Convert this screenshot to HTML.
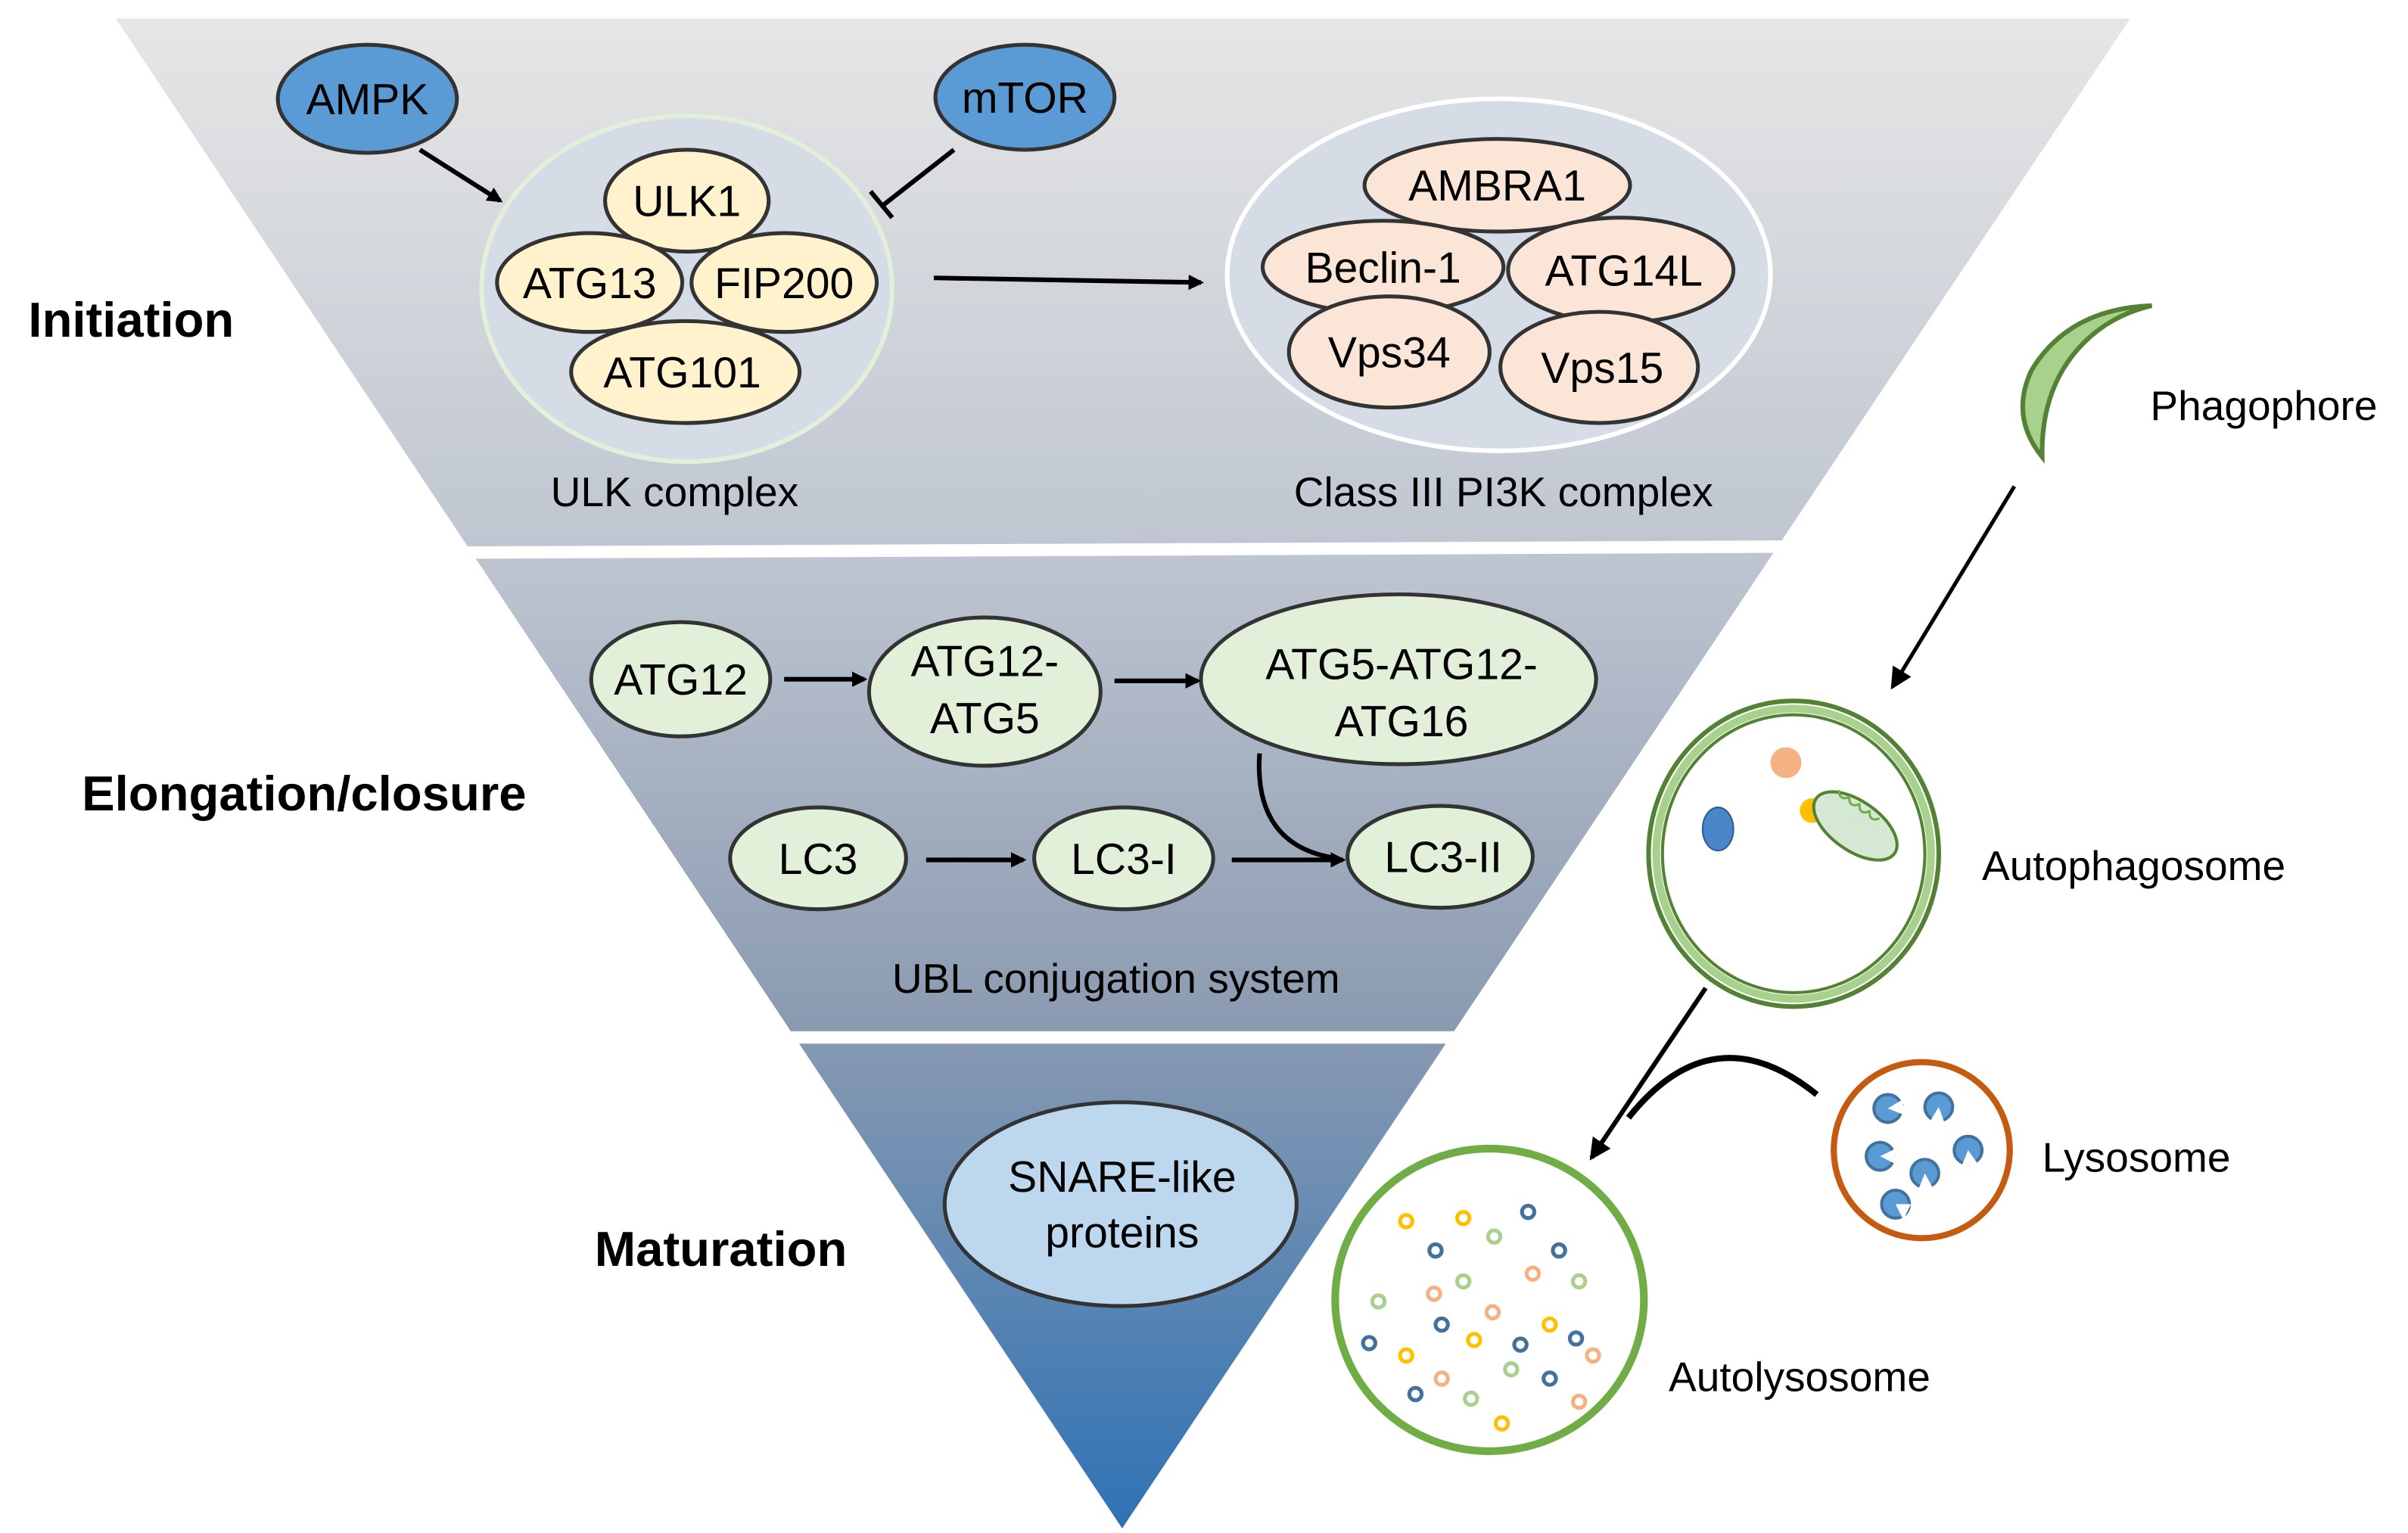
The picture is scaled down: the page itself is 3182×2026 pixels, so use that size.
<!DOCTYPE html>
<html><head><meta charset="utf-8"><style>
html,body{margin:0;padding:0;background:#fff}
svg{display:block}
text{font-family:"Liberation Sans",Arial,sans-serif;fill:#000}
</style></head><body>
<svg width="3182" height="2026" viewBox="0 0 1560 993" preserveAspectRatio="none" xmlns="http://www.w3.org/2000/svg">
<defs>
<linearGradient id="tri" x1="0" y1="12" x2="0" y2="990" gradientUnits="userSpaceOnUse">
<stop offset="0" stop-color="#e6e6e6"/>
<stop offset="0.35" stop-color="#bfc6d1"/>
<stop offset="0.66" stop-color="#8c9bb1"/>
<stop offset="1" stop-color="#2e72b4"/>
</linearGradient>
<marker id="ah" markerWidth="10" markerHeight="10" refX="8" refY="5" orient="auto" markerUnits="userSpaceOnUse"><path d="M0,0 L10,5 L0,10 Z" fill="#000"/></marker>
<marker id="ah2" markerWidth="14" markerHeight="14" refX="12" refY="7" orient="auto" markerUnits="userSpaceOnUse"><path d="M0,0 L14,7 L0,14 Z" fill="#000"/></marker>
</defs>
<polygon points="75,12 1380,12 727,990" fill="url(#tri)"/>
<line x1="290" y1="358" x2="1170" y2="354" stroke="#fff" stroke-width="8"/>
<line x1="500" y1="672" x2="960" y2="672" stroke="#fff" stroke-width="8"/>

<g font-size="28" text-anchor="middle" stroke="#333" stroke-width="2.5">
<ellipse cx="238" cy="64" rx="58" ry="35" fill="#5b9bd5"/>
<ellipse cx="664" cy="63" rx="58" ry="34" fill="#5b9bd5"/>
<ellipse cx="445" cy="187" rx="133" ry="112" fill="#d6dce5" stroke="#e2efd9" stroke-width="3"/>
<ellipse cx="445" cy="130" rx="53" ry="33" fill="#fff2cc"/>
<ellipse cx="382" cy="183" rx="60" ry="32" fill="#fff2cc"/>
<ellipse cx="508" cy="183" rx="60" ry="32" fill="#fff2cc"/>
<ellipse cx="444" cy="241" rx="74" ry="33" fill="#fff2cc"/>
<ellipse cx="971" cy="178" rx="176" ry="114" fill="#d6dce5" stroke="#fff" stroke-width="3"/>
<ellipse cx="970" cy="120" rx="86" ry="30" fill="#fbe5d6"/>
<ellipse cx="896" cy="173" rx="78" ry="30" fill="#fbe5d6"/>
<ellipse cx="1050" cy="175" rx="73" ry="34" fill="#fbe5d6"/>
<ellipse cx="900" cy="228" rx="65" ry="36" fill="#fbe5d6"/>
<ellipse cx="1036" cy="238" rx="64" ry="36" fill="#fbe5d6"/>
<ellipse cx="441" cy="440" rx="58" ry="37" fill="#e2efd9"/>
<ellipse cx="638" cy="448" rx="75" ry="48" fill="#e2efd9"/>
<ellipse cx="906" cy="440" rx="128" ry="55" fill="#e2efd9"/>
<ellipse cx="530" cy="556" rx="57" ry="33" fill="#e2efd9"/>
<ellipse cx="728" cy="556" rx="58" ry="33" fill="#e2efd9"/>
<ellipse cx="933" cy="555" rx="60" ry="33" fill="#e2efd9"/>
<ellipse cx="726" cy="780" rx="114" ry="66" fill="#bdd7ee"/>
</g>
<g font-size="28" text-anchor="middle">
<text x="238" y="74">AMPK</text>
<text x="664" y="73">mTOR</text>
<text x="445" y="140">ULK1</text>
<text x="382" y="193">ATG13</text>
<text x="508" y="193">FIP200</text>
<text x="442" y="251">ATG101</text>
<text x="970" y="130">AMBRA1</text>
<text x="896" y="183">Beclin-1</text>
<text x="1052" y="185">ATG14L</text>
<text x="900" y="238">Vps34</text>
<text x="1038" y="248">Vps15</text>
<text x="441" y="450">ATG12</text>
<text x="638" y="438">ATG12-</text>
<text x="638" y="475">ATG5</text>
<text x="908" y="440">ATG5-ATG12-</text>
<text x="908" y="477">ATG16</text>
<text x="530" y="566">LC3</text>
<text x="728" y="566">LC3-I</text>
<text x="935" y="565">LC3-II</text>
<text x="727" y="772">SNARE-like</text>
<text x="727" y="808">proteins</text>
</g>
<g font-size="27" text-anchor="middle">
<text x="437" y="328">ULK complex</text>
<text x="974" y="328">Class III PI3K complex</text>
<text x="723" y="643">UBL conjugation  system</text>
</g>
<g font-size="32" font-weight="bold" text-anchor="middle">
<text x="85" y="218">Initiation</text>
<text x="197" y="525">Elongation/closure</text>
<text x="467" y="820">Maturation</text>
</g>
<g font-size="27">
<text x="1393" y="272">Phagophore</text>
<text x="1284" y="570">Autophagosome</text>
<text x="1323" y="759">Lysosome</text>
<text x="1081" y="901">Autolysosome</text>
</g>

<g stroke="#000" stroke-width="3" fill="none">
<line x1="272" y1="97" x2="324" y2="130" marker-end="url(#ah)"/>
<line x1="618" y1="97" x2="572" y2="133"/>
<line x1="564" y1="124" x2="578" y2="141"/>
<line x1="605" y1="180" x2="778" y2="183" marker-end="url(#ah)"/>
<line x1="508" y1="440" x2="560" y2="440" marker-end="url(#ah)"/>
<line x1="722" y1="441" x2="776" y2="441" marker-end="url(#ah)"/>
<line x1="600" y1="557" x2="663" y2="557" marker-end="url(#ah)"/>
<line x1="798" y1="557" x2="870" y2="557" marker-end="url(#ah)"/>
<path d="M816,488 Q812,548 866,556" />
<line x1="1305" y1="315" x2="1226" y2="445" stroke-width="2.5" marker-end="url(#ah2)"/>
<line x1="1105" y1="640" x2="1031" y2="750" stroke-width="3" marker-end="url(#ah2)"/>
<path d="M1177,709 Q1110,655 1055,724" stroke-width="4"/>
</g>

<path d="M1394,198 Q1340,200 1316,240 Q1302,270 1323,296 Q1322,250 1350,222 Q1368,204 1394,198 Z" fill="#a9d18e" stroke="#548235" stroke-width="3"/>

<ellipse cx="1162" cy="553" rx="94" ry="99" fill="none" stroke="#548235" stroke-width="3"/>
<ellipse cx="1162" cy="553" rx="89" ry="94" fill="none" stroke="#a9d18e" stroke-width="5"/>
<ellipse cx="1162" cy="553" rx="85" ry="90" fill="#fff" stroke="#548235" stroke-width="2"/>
<circle cx="1157" cy="494" r="10" fill="#f4b183"/>
<ellipse cx="1113" cy="537" rx="10" ry="14" fill="#4a86c8" stroke="#2e5c8e" stroke-width="1"/>
<circle cx="1174" cy="525" r="8" fill="#ffc000"/>
<ellipse cx="1202" cy="535" rx="31" ry="16" transform="rotate(35 1202 535)" fill="#d5e8d4" stroke="#548235" stroke-width="2"/>
<path d="M1180,522 q4,6 8,0 q4,6 8,0 q4,6 8,0 q4,6 8,0" transform="rotate(35 1202 535)" fill="none" stroke="#70ad47" stroke-width="1.5"/>

<ellipse cx="1245" cy="745" rx="57" ry="57" fill="#fff" stroke="#c55a11" stroke-width="4"/>
<g fill="#5b9bd5" stroke="#41719c" stroke-width="2">
<path d="M1225,719 l8,-4 a10,10 0 1 0 0,0 z"/>
<circle cx="1223" cy="718" r="9"/>
<circle cx="1256" cy="717" r="9"/>
<circle cx="1218" cy="749" r="9"/>
<circle cx="1275" cy="745" r="9"/>
<circle cx="1247" cy="760" r="9"/>
<circle cx="1228" cy="780" r="9"/>
</g>
<g fill="#fff">
<path d="M1223,718 L1233,712 L1233,722 Z"/>
<path d="M1256,717 L1250,727 L1260,728 Z"/>
<path d="M1218,749 L1228,744 L1228,754 Z"/>
<path d="M1275,745 L1271,755 L1282,755 Z"/>
<path d="M1247,760 L1243,770 L1253,771 Z"/>
<path d="M1228,780 L1233,790 L1238,780 Z"/>
</g>

<ellipse cx="965" cy="842" rx="100" ry="98" fill="#fff" stroke="#70ad47" stroke-width="5"/>
<g stroke-width="2.5">
<circle cx="911" cy="791" r="4" fill="#fff" stroke="#ffc000"/>
<circle cx="948" cy="789" r="4" fill="#fff" stroke="#ffc000"/>
<circle cx="990" cy="785" r="4" fill="#fff" stroke="#41719c"/>
<circle cx="968" cy="801" r="4" fill="#fff" stroke="#a9d18e"/>
<circle cx="930" cy="810" r="4" fill="#fff" stroke="#41719c"/>
<circle cx="1010" cy="810" r="4" fill="#fff" stroke="#41719c"/>
<circle cx="993" cy="825" r="4" fill="#fff" stroke="#f4b183"/>
<circle cx="948" cy="830" r="4" fill="#fff" stroke="#a9d18e"/>
<circle cx="1023" cy="830" r="4" fill="#fff" stroke="#a9d18e"/>
<circle cx="893" cy="843" r="4" fill="#fff" stroke="#a9d18e"/>
<circle cx="929" cy="838" r="4" fill="#fff" stroke="#f4b183"/>
<circle cx="967" cy="850" r="4" fill="#fff" stroke="#f4b183"/>
<circle cx="934" cy="858" r="4" fill="#fff" stroke="#41719c"/>
<circle cx="1004" cy="858" r="4" fill="#fff" stroke="#ffc000"/>
<circle cx="955" cy="868" r="4" fill="#fff" stroke="#ffc000"/>
<circle cx="887" cy="870" r="4" fill="#fff" stroke="#41719c"/>
<circle cx="985" cy="871" r="4" fill="#fff" stroke="#41719c"/>
<circle cx="1021" cy="867" r="4" fill="#fff" stroke="#41719c"/>
<circle cx="911" cy="878" r="4" fill="#fff" stroke="#ffc000"/>
<circle cx="1032" cy="878" r="4" fill="#fff" stroke="#f4b183"/>
<circle cx="979" cy="887" r="4" fill="#fff" stroke="#a9d18e"/>
<circle cx="934" cy="893" r="4" fill="#fff" stroke="#f4b183"/>
<circle cx="1004" cy="893" r="4" fill="#fff" stroke="#41719c"/>
<circle cx="917" cy="903" r="4" fill="#fff" stroke="#41719c"/>
<circle cx="953" cy="906" r="4" fill="#fff" stroke="#a9d18e"/>
<circle cx="1023" cy="908" r="4" fill="#fff" stroke="#f4b183"/>
<circle cx="973" cy="922" r="4" fill="#fff" stroke="#ffc000"/>
</g>
</svg>
</body></html>
